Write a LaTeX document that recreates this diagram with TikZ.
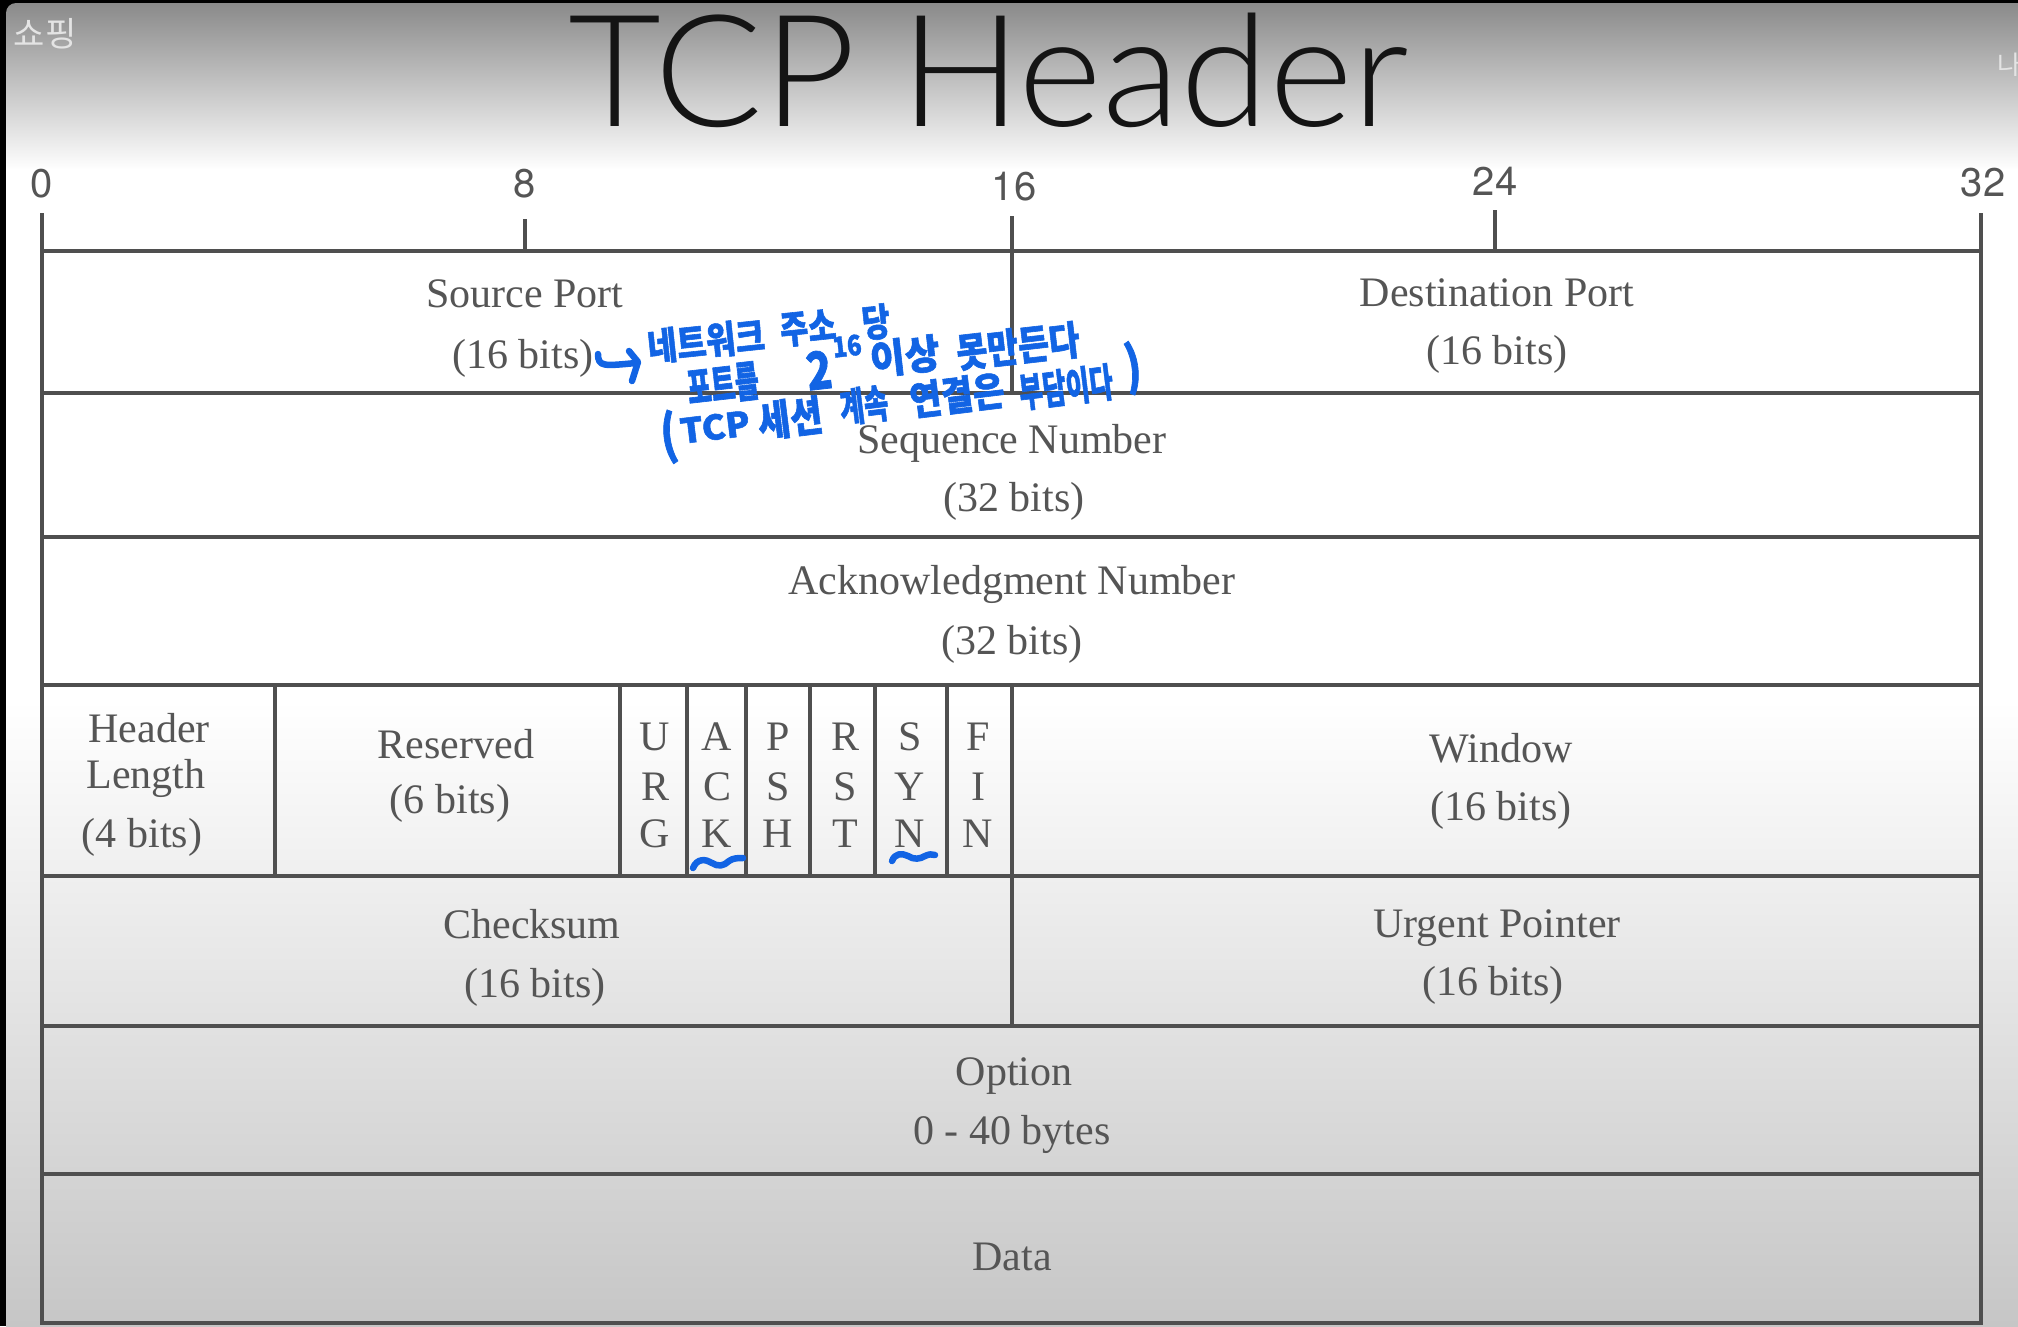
\documentclass[tikz,border=0pt]{standalone}
\usepackage{fontspec}
\setmainfont{Liberation Serif}
\newfontfamily\heros{TeX Gyre Heros}
\newfontfamily\kor{Noto Sans CJK KR}[BoldFeatures={FakeBold=1.5}]
\IfFontExistsTF{Lato Light}{\newfontfamily\ttlfont{Lato Light}\def\ttlxs{1.03}}{\newfontfamily\ttlfont{TeX Gyre Heros}\def\ttlxs{0.976}}
\definecolor{txt}{HTML}{555555}
\definecolor{ln}{HTML}{4F4F4F}
\definecolor{pen}{RGB}{18,100,228}
\definecolor{topg}{HTML}{8A8A8A}
\definecolor{botg}{HTML}{C6C6C6}
\definecolor{ttl}{HTML}{141414}
\definecolor{osd}{HTML}{E4E4E4}
\begin{document}
\begin{tikzpicture}[x=1pt,y=-1pt]
\tikzset{
  lbl/.style={anchor=base, inner sep=0pt, text=txt, font=\fontsize{42}{50}\selectfont},
  grid/.style={draw=ln, line width=3.4pt},
  num/.style={inner sep=0pt, text=txt, font=\heros\fontsize{40}{48}\selectfont},
  hand/.style={inner sep=0pt, text=pen, font=\kor\bfseries\fontsize{#1}{#1}\selectfont},
  hand/.default=40,
  squig/.style={draw=pen, line width=6.5pt, line cap=round, line join=round},
}
\useasboundingbox (0,0) rectangle (2018,1326);
% background
\fill[black] (0,0) rectangle (2018,1326);
\shade[top color=topg, bottom color=white] (6,170) [rounded corners=10pt] -- (6,3) [sharp corners] -- (2018,3) -- (2018,170) -- cycle;
\fill[white] (6,169) rectangle (2018,701);
\shade[top color=white, bottom color=botg] (6,700) rectangle (2018,1326);
% overlay texts
\node[inner sep=0pt, text=osd, font=\kor\fontsize{34}{36}\selectfont] (shop) at (45,34) {쇼핑};
\node[anchor=west, inner sep=0pt, text=osd, font=\kor\fontsize{26}{30}\selectfont] (na) at (1997,65) {나};
% title
\node[anchor=base, inner sep=0pt, text=ttl, font=\ttlfont\fontsize{156}{160}\selectfont, xscale=\ttlxs] (title) at (989,126) {TCP Header};
% ruler
\node[num] (n0) at (42,184) {0};
\node[num] (n8) at (525,184) {8};
\node[num] (n16) at (1014,187) {16};
\node[num] (n24) at (1495,181) {24};
\node[num] (n32) at (1983,183) {32};
\draw[grid] (42,213) -- (42,251);
\draw[grid] (525,219) -- (525,251);
\draw[grid] (1012,216) -- (1012,251);
\draw[grid] (1495,210) -- (1495,251);
\draw[grid] (1981,213) -- (1981,251);
% table
\draw[grid] (42,251) rectangle (1981,1323);
\foreach \yy in {393,537,685,876,1026,1174} \draw[grid] (42,\yy) -- (1981,\yy);
\draw[grid] (1012,251) -- (1012,393);
\draw[grid] (1012,876) -- (1012,1026);
\foreach \xx in {275,620,687,746,810,875,947,1012} \draw[grid] (\xx,685) -- (\xx,876);
% labels
\node[lbl] (sp) at (525,307) {Source Port};
\node[lbl] (spb) at (523,368) {(16 bits)};
\node[lbl] (dp) at (1497,306) {Destination Port};
\node[lbl] (dpb) at (1497,364) {(16 bits)};
\node[lbl] (sn) at (1012,453) {Sequence Number};
\node[lbl] (snb) at (1014,511) {(32 bits)};
\node[lbl] (an) at (1012,594) {Acknowledgment Number};
\node[lbl] (anb) at (1012,654) {(32 bits)};
\node[lbl] (hl1) at (149,742) {Header};
\node[lbl] (hl2) at (146,788) {Length};
\node[lbl] (hlb) at (142,847) {(4 bits)};
\node[lbl] (rs) at (456,758) {Reserved};
\node[lbl] (rsb) at (450,813) {(6 bits)};
\foreach \xx/\a/\b/\c/\nm in {655/U/R/G/urg,717/A/C/K/ack,778/P/S/H/psh,845/R/S/T/rst,910/S/Y/N/syn,978/F/I/N/fin}{
  \node[lbl] (\nm1) at (\xx,750) {\a};
  \node[lbl] (\nm2) at (\xx,800) {\b};
  \node[lbl] (\nm3) at (\xx,847) {\c};
}
\node[lbl] (wn) at (1501,762) {Window};
\node[lbl] (wnb) at (1501,820) {(16 bits)};
\node[lbl] (cs) at (532,938) {Checksum};
\node[lbl] (csb) at (535,997) {(16 bits)};
\node[lbl] (up) at (1497,937) {Urgent Pointer};
\node[lbl] (upb) at (1493,995) {(16 bits)};
\node[lbl] (op) at (1014,1085) {Option};
\node[lbl] (opb) at (1012,1144) {0 - 40 bytes};
\node[lbl] (dt) at (1012,1270) {Data};
% handwritten annotation: hook arrow
\draw[squig] (598,354) .. controls (598,367) and (604,366) .. (636,363);
\draw[squig] (629,351) -- (638,362) -- (632,381);
% line 1
\node[hand=38, rotate=6, xscale=0.84] (h1a) at (706,341) {네트워크};
\node[hand=38, rotate=6, xscale=0.8] (h1b) at (808,328) {주소};
\node[hand=38, rotate=6, xscale=0.8] (h1c) at (876,322) {당};
% line 2
\node[hand=42, rotate=6.5, xscale=0.62] (h2a) at (723,384) {포트를};
\node[hand=52, rotate=6.5, xscale=0.8] (h2b) at (819,370) {2};
\node[hand=28, rotate=6.5, xscale=0.85] (h2c) at (847,346) {16};
\node[hand=40, rotate=6.5, xscale=0.95] (h2d) at (905,356) {이상};
\node[hand=40, rotate=6.5, xscale=0.84] (h2e) at (1018,346) {못만든다};
% line 3
\node[hand=52, rotate=7, xscale=0.8] (h3a) at (669,437) {(};
\node[hand=34, rotate=7, xscale=1.05] (h3b) at (715,427) {TCP};
\node[hand=42, rotate=7, xscale=0.84] (h3c) at (790,418) {세션};
\node[hand=40, rotate=7, xscale=0.66] (h3d) at (864,405) {계속};
\node[hand=40, rotate=7, xscale=0.86] (h3e) at (957,395) {연결은};
\node[hand=40, rotate=7, xscale=0.64] (h3f) at (1066,387) {부담이다};
\node[hand=52, rotate=7, xscale=0.8] (h3g) at (1133,368) {)};
% underline squiggles
\draw[squig] (693,868) .. controls (697,858) and (706,859) .. (712,863) .. controls (718,867) and (724,866) .. (729,861) .. controls (733,858) and (738,858) .. (743,858);
\draw[squig] (892,861) .. controls (895,853) and (902,853) .. (908,856) .. controls (914,860) and (920,859) .. (925,856) .. controls (929,854) and (932,854) .. (935,855);
\end{tikzpicture}
\end{document}
